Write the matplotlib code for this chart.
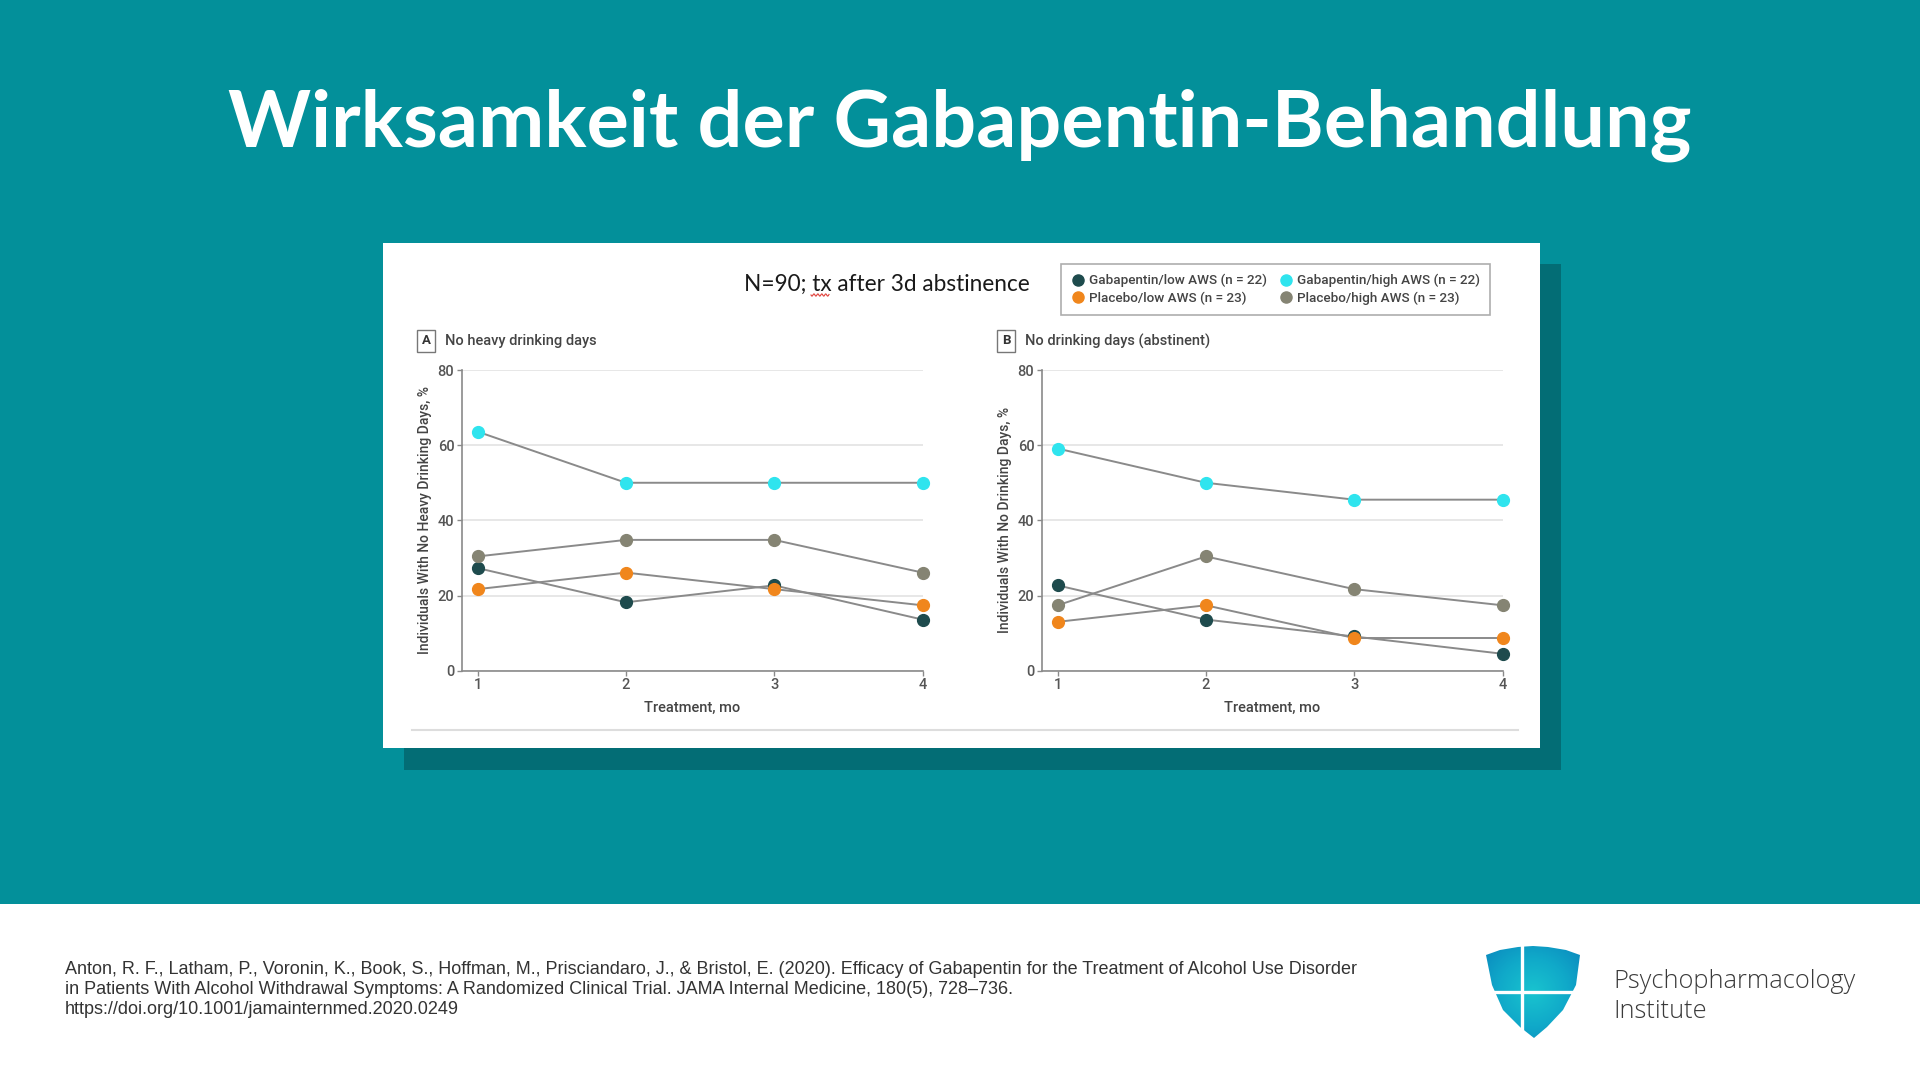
import matplotlib
matplotlib.use('Agg')
import matplotlib.pyplot as plt
import numpy as np
from matplotlib.lines import Line2D
from matplotlib.patches import Rectangle, Polygon

# --- data ---
months = [1, 2, 3, 4]
group_names = ['Gabapentin/low AWS (n = 22)', 'Placebo/low AWS (n = 23)',
               'Gabapentin/high AWS (n = 22)', 'Placebo/high AWS (n = 23)']
group_colors = ['#1e4b4d', '#f0861c', '#2fe4ee', '#858473']

# panel A: no heavy drinking days, %
heavy_gab_low = [27.3, 18.2, 22.7, 13.6]
heavy_pla_low = [21.7, 26.1, 21.7, 17.4]
heavy_gab_high = [63.6, 50.0, 50.0, 50.0]
heavy_pla_high = [30.4, 34.8, 34.8, 26.1]

# panel B: no drinking days (abstinent), %
abst_gab_low = [22.7, 13.6, 9.1, 4.5]
abst_pla_low = [13.0, 17.4, 8.7, 8.7]
abst_gab_high = [59.1, 50.0, 45.5, 45.5]
abst_pla_high = [17.4, 30.4, 21.7, 17.4]

yticks = [0, 20, 40, 60, 80]

TEAL = '#03909a'
SHADOW = '#036d75'
CHART_FONT = ['Roboto', 'DejaVu Sans']

W, H = 1920, 1080
fig = plt.figure(figsize=(19.2, 10.8), dpi=100, facecolor='white')


def fx(x):
    return x / W


def fy(y):
    return 1 - y / H


# overlay in pixel coordinates for the slide decoration
deco = fig.add_axes([0, 0, 1, 1], zorder=0)
deco.set_xlim(0, W)
deco.set_ylim(H, 0)
deco.axis('off')

deco.add_patch(Rectangle((0, 0), W, 904, color=TEAL, lw=0))
deco.add_patch(Rectangle((404, 264), 1157, 506, color=SHADOW, lw=0))
deco.add_patch(Rectangle((383, 243), 1157, 505, color='white', lw=0))
deco.plot([412, 1518], [730, 730], color='#dddddd', lw=1.5)

# slide title, scaled to the width it has on the slide
title = fig.text(0.5, fy(125), 'Wirksamkeit der Gabapentin-Behandlung',
                 ha='center', va='center', color='white', fontsize=60,
                 fontweight='bold', family=['Lato', 'DejaVu Sans'])
r = fig.canvas.get_renderer()
tw = title.get_window_extent(r).width
title.set_fontsize(60 * 1463 / tw)

fig.text(fx(887), fy(284), 'N=90; tx after 3d abstinence', ha='center', va='center',
         fontsize=16.3, color='#1a1a1a', family=['Lato', 'DejaVu Sans'])
# spell-check squiggle under "tx" from the screenshot
sq_x = np.linspace(811, 829, 60)
deco.plot(sq_x, 295 + 1.1 * np.sin((sq_x - 811) * 1.6), color='#e0403a', lw=0.8)

# citation
cite = ['Anton, R. F., Latham, P., Voronin, K., Book, S., Hoffman, M., Prisciandaro, J., & Bristol, E. (2020). '
        'Efficacy of Gabapentin for the Treatment of Alcohol Use Disorder',
        'in Patients With Alcohol Withdrawal Symptoms: A Randomized Clinical Trial. JAMA Internal Medicine, 180(5), 728\u2013736.',
        'https://doi.org/10.1001/jamainternmed.2020.0249']
for line, yy in zip(cite, [969, 990, 1010]):
    fig.text(fx(65), fy(yy), line, ha='left', va='center', fontsize=13.0,
             color='#333333', family=['Liberation Sans', 'DejaVu Sans'])

# logo: shield with gradient and white cross
shield = np.array([(1486, 955), (1500, 950), (1518, 947), (1533, 946), (1548, 947), (1566, 950), (1580, 955),
                   (1576, 985), (1563, 1010), (1547, 1027), (1534, 1038),
                   (1520, 1027), (1503, 1010), (1492, 985)])
poly = Polygon(shield, closed=True, facecolor='none', edgecolor='none')
deco.add_patch(poly)
gx, gy = np.meshgrid(np.linspace(-1, 1, 120), np.linspace(-1, 1, 120))
grad = np.sqrt(gx ** 2 + gy ** 2)
img = deco.imshow(grad, extent=(1484, 1582, 1040, 944), cmap=matplotlib.colors.LinearSegmentedColormap.from_list(
    'shield', ['#19c3cf', '#10a9c9', '#0a86bd']), origin='lower', zorder=1, interpolation='bilinear')
img.set_clip_path(poly)
deco.set_xlim(0, W)
deco.set_ylim(H, 0)
deco.plot([1522, 1522], [944, 1036], color='white', lw=2.4, zorder=2)
deco.plot([1490, 1578], [992, 992], color='white', lw=2.4, zorder=2)

fig.text(fx(1613), fy(982), 'Psychopharmacology', ha='left', va='center', fontsize=18.3,
         color='#3a3a3a', fontweight='light', family=['Open Sans', 'DejaVu Sans'])
fig.text(fx(1613), fy(1012), 'Institute', ha='left', va='center', fontsize=18.3,
         color='#3a3a3a', fontweight='light', family=['Open Sans', 'DejaVu Sans'])

AX_W = 460.5


def panel(left_px, data, letter, subtitle, ylabel):
    ax = fig.add_axes([fx(left_px), fy(670.7), AX_W / W, 300.7 / H], zorder=2)
    ax.set_facecolor('none')
    for vals, col in zip(data, group_colors):
        ax.plot(months, vals, color='#8a8a8a', lw=1.4, zorder=2, clip_on=False)
        ax.plot(months, vals, ls='none', marker='o', ms=8.5, mfc=col, mec=col, zorder=3, clip_on=False)
    ax.set_xlim(0.895, 4.0)
    ax.set_ylim(0, 80)
    ax.set_xticks(months)
    ax.set_yticks(yticks)
    ax.grid(axis='y', color='#e3e3e3', lw=1.2, zorder=0)
    for s in ['top', 'right']:
        ax.spines[s].set_visible(False)
    for s in ['left', 'bottom']:
        ax.spines[s].set_color('#8a8a8a')
        ax.spines[s].set_linewidth(1.2)
    ax.tick_params(length=3.5, width=1, color='#8a8a8a', labelsize=10.5, labelcolor='#555555', pad=2)
    for t in ax.get_xticklabels() + ax.get_yticklabels():
        t.set_family(CHART_FONT)
        t.set_fontweight('medium')
    ax.set_xlabel('Treatment, mo', fontsize=10.5, color='#444444', family=CHART_FONT,
                  fontweight='medium', labelpad=6)
    ax.set_ylabel(ylabel, fontsize=10, color='#444444', family=CHART_FONT, fontweight='medium')
    ax.yaxis.set_label_coords(-30 / AX_W, 0.5)
    fig.text(fx(left_px - 36), fy(341), letter, ha='center', va='center', fontsize=9.5,
             fontweight='bold', color='#333333', family=CHART_FONT,
             bbox=dict(boxstyle='square,pad=0.35', fc='white', ec='#777777', lw=1))
    fig.text(fx(left_px - 17), fy(341), subtitle, ha='left', va='center', fontsize=10.5,
             color='#444444', fontweight='medium', family=CHART_FONT)
    return ax


axA = panel(462, [heavy_gab_low, heavy_pla_low, heavy_gab_high, heavy_pla_high], 'A',
            'No heavy drinking days', 'Individuals With No Heavy Drinking Days, %')
axB = panel(1042, [abst_gab_low, abst_pla_low, abst_gab_high, abst_pla_high], 'B',
            'No drinking days (abstinent)', 'Individuals With No Drinking Days, %')

handles = [Line2D([], [], ls='none', marker='o', ms=8, mfc=c, mec=c) for c in group_colors]
leg = fig.legend(handles, group_names, ncol=2, loc='upper left',
                 bbox_to_anchor=(fx(1061), fy(314), (1490 - 1061) / W, (314 - 264) / H),
                 mode='expand', frameon=True, fancybox=False, edgecolor='#999999',
                 borderaxespad=0, borderpad=0.75, handletextpad=0.3, labelspacing=0.3,
                 columnspacing=1.0, handlelength=1.0,
                 prop={'family': CHART_FONT, 'size': 9.7, 'weight': 'medium'})
leg.get_frame().set_linewidth(1.2)
for t in leg.get_texts():
    t.set_color('#444444')

fig.savefig('out.png', dpi=100, facecolor='white')
